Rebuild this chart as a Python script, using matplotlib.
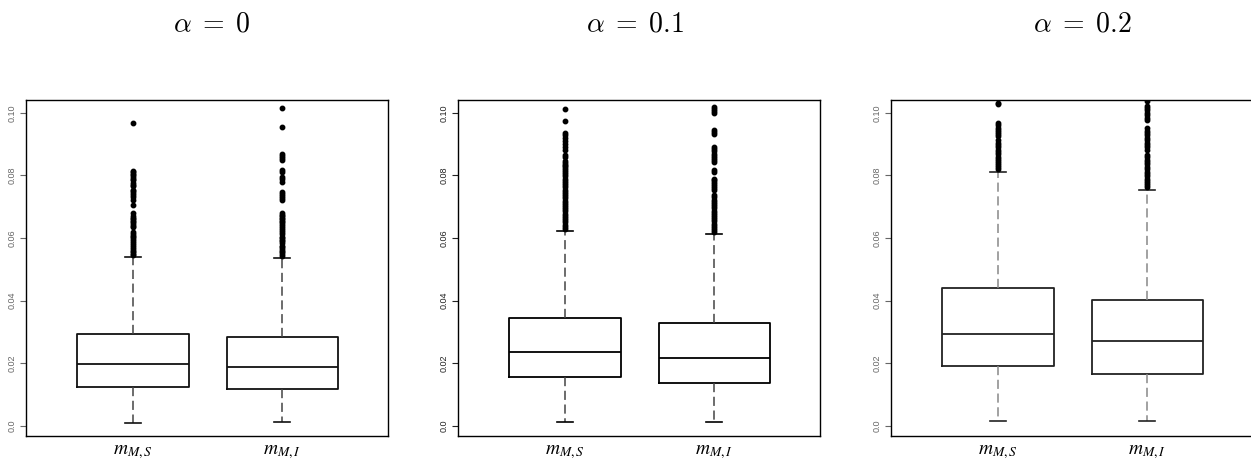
import matplotlib
matplotlib.use("Agg")
import matplotlib.pyplot as plt

plt.rcParams['font.family'] = ['Liberation Sans', 'DejaVu Sans']

alphas = ["0", "0.1", "0.2"]
labels = [r"$m_{M,S}$", r"$m_{M,I}$"]

# box stats: q1, median, q3, lower whisker, upper whisker
q1 = [[0.01255, 0.0118], [0.01553, 0.01383], [0.01926, 0.0166]]
med = [[0.0199, 0.01894], [0.02362, 0.0217], [0.02947, 0.02702]]
q3 = [[0.02926, 0.0285], [0.03447, 0.0330], [0.04415, 0.04032]]
wlo = [[0.00096, 0.00128], [0.00128, 0.00128], [0.0016, 0.0017]]
whi = [[0.0539, 0.0537], [0.0623, 0.0614], [0.0812, 0.0754]]

fl_a0_s = [0.0966, 0.0815, 0.0810, 0.0805, 0.0800, 0.0795, 0.0790, 0.0785, 0.0775,
           0.0770, 0.0765, 0.0755, 0.0750, 0.0745, 0.0737, 0.0730, 0.0722, 0.0705,
           0.0679, 0.0672, 0.0665, 0.0660, 0.0655, 0.0650, 0.0645, 0.0640, 0.0636,
           0.0620, 0.0614, 0.0608, 0.0602, 0.0596, 0.0590, 0.0584, 0.0578, 0.0572,
           0.0566, 0.0560, 0.0555, 0.0550, 0.0545]
fl_a0_i = [0.1014, 0.0955, 0.0870, 0.0862, 0.0855, 0.0848, 0.0817, 0.0812, 0.0795,
           0.0788, 0.0780, 0.0748, 0.0742, 0.0735, 0.0727, 0.0722, 0.0680, 0.0675,
           0.0670, 0.0665, 0.0660, 0.0655, 0.0650, 0.0645, 0.0638, 0.0632, 0.0625,
           0.0620, 0.0612, 0.0605, 0.0600, 0.0595, 0.0590, 0.0583, 0.0575, 0.0570,
           0.0565, 0.0560, 0.0555, 0.0550, 0.0543]
fl_a1_s = [0.1012, 0.0973, 0.0936, 0.0930, 0.0920, 0.0910, 0.0902, 0.0890, 0.0882,
           0.0865, 0.0860, 0.0845, 0.0840, 0.0835, 0.0830, 0.0825, 0.0818, 0.0811,
           0.0804, 0.0797, 0.0790, 0.0783, 0.0776, 0.0769, 0.0762, 0.0755, 0.0748,
           0.0741, 0.0734, 0.0727, 0.0720, 0.0713, 0.0706, 0.0699, 0.0692, 0.0685,
           0.0678, 0.0671, 0.0664, 0.0657, 0.0650, 0.0643, 0.0636, 0.0630]
fl_a1_i = [0.1019, 0.1012, 0.1005, 0.0998, 0.0945, 0.0940, 0.0934, 0.0891, 0.0885,
           0.0878, 0.0870, 0.0862, 0.0855, 0.0848, 0.0844, 0.0817, 0.0812, 0.0790,
           0.0785, 0.0780, 0.0772, 0.0765, 0.0760, 0.0753, 0.0737, 0.0730, 0.0723,
           0.0716, 0.0709, 0.0702, 0.0695, 0.0688, 0.0681, 0.0674, 0.0667, 0.0660,
           0.0653, 0.0646, 0.0639, 0.0632, 0.0625, 0.0618]
fl_a2_s = [0.1032, 0.1028, 0.0966, 0.0960, 0.0953, 0.0946, 0.0940, 0.0932, 0.0925,
           0.0913, 0.0905, 0.0897, 0.0890, 0.0882, 0.0875, 0.0870, 0.0860, 0.0853,
           0.0846, 0.0840, 0.0834, 0.0828, 0.0822]
fl_a2_i = [0.1045, 0.1038, 0.1022, 0.1015, 0.1008, 0.1000, 0.0993, 0.0985, 0.0978,
           0.0950, 0.0943, 0.0936, 0.0928, 0.0920, 0.0912, 0.0905, 0.0897, 0.0890,
           0.0882, 0.0865, 0.0858, 0.0850, 0.0843, 0.0836, 0.0828, 0.0820, 0.0812,
           0.0805, 0.0798, 0.0790, 0.0783, 0.0776, 0.0768, 0.0762]
fliers = [[fl_a0_s, fl_a0_i], [fl_a1_s, fl_a1_i], [fl_a2_s, fl_a2_i]]

yticks = [0.0, 0.02, 0.04, 0.06, 0.08, 0.10]
yticklabels = ["0.0", "0.02", "0.04", "0.06", "0.08", "0.10"]

W, H = 1251, 465
fig = plt.figure(figsize=(W / 100, H / 100), dpi=100)

lefts = [26, 458, 891]
title_x = [212, 635, 1082]
whisk_col = ["#444444", "#444444", "#888888"]
box_col = ["#111111", "#000000", "#222222"]
tick_col = ["#666666", "#222222", "#666666"]

for k in range(3):
    ax = fig.add_axes([lefts[k] / W, 1 - 436 / H, 362 / W, 336 / H])
    stats = []
    for j in range(2):
        stats.append(dict(med=med[k][j], q1=q1[k][j], q3=q3[k][j],
                          whislo=wlo[k][j], whishi=whi[k][j], fliers=fliers[k][j]))
    ax.bxp(stats, positions=[1, 2], widths=0.745, capwidths=0.105,
           boxprops=dict(color=box_col[k], lw=1.3),
           medianprops=dict(color=box_col[k], lw=1.3),
           whiskerprops=dict(color=whisk_col[k], lw=1.1, dashes=(6, 3)),
           capprops=dict(color=box_col[k], lw=1.2),
           flierprops=dict(marker='o', markersize=3.2, markerfacecolor='black',
                           markeredgecolor='black', linestyle='none'))
    ax.set_xlim(0.282, 2.711)
    ax.set_ylim(-0.0032, 0.1041)
    ax.set_yticks(yticks)
    ax.set_yticklabels(yticklabels, rotation=90, va='center', fontsize=6.5,
                       color=tick_col[k])
    ax.tick_params(axis='y', length=4, width=0.8, pad=2.5, color=tick_col[k])
    ax.set_xticks([1, 2])
    ax.set_xticklabels(labels, fontsize=14, math_fontfamily='stix')
    ax.tick_params(axis='x', length=0, pad=5)
    for s in ax.spines.values():
        s.set_linewidth(1.0)
        s.set_color('black')
    fig.text(title_x[k] / W, 1 - 25 / H, r"$\alpha \;=\; %s$" % alphas[k],
             fontsize=20, ha='center', va='center', math_fontfamily='cm')

fig.savefig("out.png", dpi=100)
